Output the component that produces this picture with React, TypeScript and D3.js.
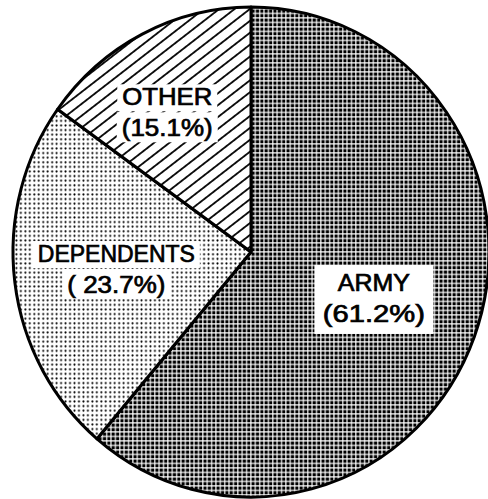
import React from "react";
import * as d3 from "d3";

const categories = ["ARMY", "DEPENDENTS", "OTHER"];
const values = [61.2, 23.7, 15.1];
const percentLabels = ["(61.2%)", "( 23.7%)", "(15.1%)"];

const W = 488;
const H = 499;
const cx = 251;
const cy = 252;
const rx = 238;
const ry = 245;
const labelFrac = [0.55, 0.57, 0.67];
const labelShiftDeg = [0, 0, -4.5];
const nameWidths = [72, 157, 90];
const pctWidths = [102, 98, 91];
const fills = ["url(#armyPat)", "url(#depPat)", "url(#otherPat)"];
const boxes = [
  { w: 119, h: 69, single: true },
  { w: 166, h: 58, single: false },
  { w: 100, h: 60, single: false },
];

export default function App() {
  const pie = d3
    .pie<number>()
    .sort(null)
    .value((d) => d)
    .startAngle(0)
    .endAngle(2 * Math.PI);
  const arcs = pie(values);
  const arc = d3.arc<d3.PieArcDatum<number>>().innerRadius(0).outerRadius(ry);
  const sx = rx / ry;

  const textProps = {
    textAnchor: "middle" as const,
    fontFamily: "'Liberation Sans', Arial, sans-serif",
    fontSize: 23,
    fill: "#000",
    stroke: "#000",
    strokeWidth: 0.7,
    lengthAdjust: "spacingAndGlyphs" as const,
  };

  return (
    <svg
      width={W}
      height={H}
      style={{ position: "absolute", left: 0, top: 0, background: "#fff" }}
    >
      <defs>
        <pattern id="armyPat" width={4.5} height={4.5} patternUnits="userSpaceOnUse">
          <rect width={4.5} height={4.5} fill="#fff" />
          <rect x={0.5} y={0.5} width={3.3} height={3.3} fill="#000" />
        </pattern>
        <pattern id="depPat" width={4.6} height={4.6} patternUnits="userSpaceOnUse">
          <rect width={4.6} height={4.6} fill="#fff" />
          <circle cx={2.3} cy={2.3} r={1.05} fill="#000" />
        </pattern>
        <pattern
          id="otherPat"
          width={10}
          height={9.5}
          patternUnits="userSpaceOnUse"
          patternTransform="rotate(-37)"
        >
          <rect width={10} height={9.5} fill="#fff" />
          <line x1={0} y1={4.75} x2={10} y2={4.75} stroke="#000" strokeWidth={1.8} />
        </pattern>
      </defs>
      <g transform={`translate(${cx},${cy}) scale(${sx},1)`}>
        {arcs.map((a, i) => (
          <path
            key={categories[i]}
            d={arc(a) || ""}
            fill={fills[i]}
            stroke="#000"
            strokeWidth={3}
            strokeLinejoin="round"
            vectorEffect="non-scaling-stroke"
          />
        ))}
      </g>
      {arcs.map((a, i) => {
        const mid = (a.startAngle + a.endAngle) / 2 + (labelShiftDeg[i] * Math.PI) / 180;
        const lx = cx + Math.sin(mid) * rx * labelFrac[i];
        const ly = cy - Math.cos(mid) * ry * labelFrac[i];
        const b = boxes[i];
        return (
          <g key={"lab" + i}>
            {b.single ? (
              <rect x={lx - b.w / 2} y={ly - b.h / 2 + 1} width={b.w} height={b.h} fill="#fff" />
            ) : (
              <>
                <rect x={lx - nameWidths[i] / 2 - 5} y={ly - 28} width={nameWidths[i] + 10} height={27} fill="#fff" />
                <rect x={lx - pctWidths[i] / 2 - 5} y={ly} width={pctWidths[i] + 10} height={30} fill="#fff" />
              </>
            )}
            <text {...textProps} x={lx} y={ly - 7} textLength={nameWidths[i]}>
              {categories[i]}
            </text>
            <text {...textProps} x={lx} y={ly + 24} textLength={pctWidths[i]}>
              {percentLabels[i]}
            </text>
          </g>
        );
      })}
    </svg>
  );
}
